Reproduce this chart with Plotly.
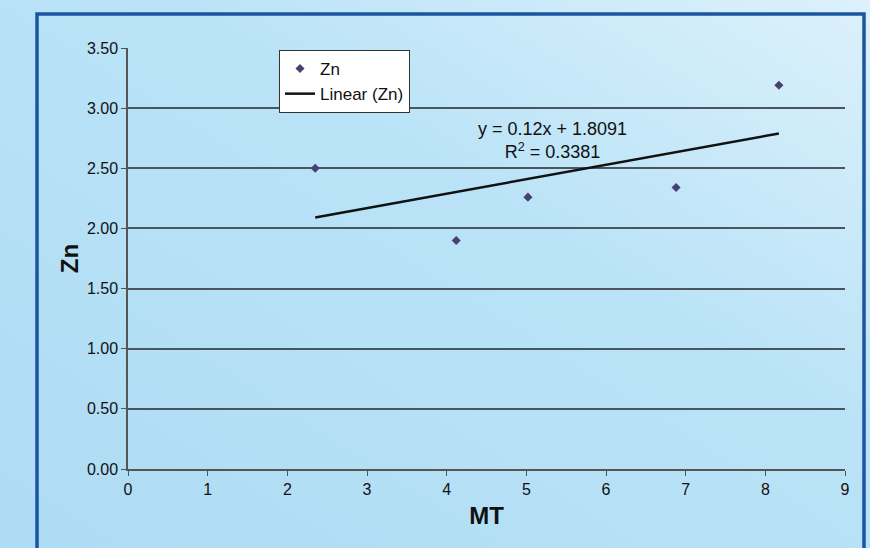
import plotly.graph_objects as go

# Data
mt_values = [2.35, 4.12, 5.02, 6.88, 8.17]
zn_values = [2.50, 1.90, 2.26, 2.34, 3.19]
trend_slope = 0.12
trend_intercept = 1.8091
trend_r2 = 0.3381
y_ticks = [0, 0.5, 1.0, 1.5, 2.0, 2.5, 3.0, 3.5]
x_ticks = list(range(0, 10))

x_lo, x_hi = min(mt_values), max(mt_values)
trend_x = [x_lo, x_hi]
trend_y = [trend_slope * v + trend_intercept for v in trend_x]

FONT = "Liberation Sans, Arial, sans-serif"
PW, PH = 717, 421  # plot area size in px
L, T = 128, 48

bg_svg = (
    "data:image/svg+xml;utf8,"
    "<svg xmlns='http://www.w3.org/2000/svg' width='870' height='548'>"
    "<defs><linearGradient id='g' x1='0' y1='1' x2='1' y2='0'>"
    "<stop offset='0' stop-color='%23aedcf4'/>"
    "<stop offset='0.6' stop-color='%23bae3f7'/>"
    "<stop offset='1' stop-color='%23dcf1fb'/>"
    "</linearGradient></defs>"
    "<rect width='870' height='548' fill='url(%23g)'/></svg>"
)

fig = go.Figure()
fig.add_trace(go.Scatter(
    x=mt_values, y=zn_values, mode="markers", name="Zn",
    marker=dict(symbol="diamond", size=7, color="#4a3f73"),
))
fig.add_trace(go.Scatter(
    x=trend_x, y=trend_y, mode="lines", name="Linear (Zn)",
    line=dict(color="#111111", width=2.5),
))

fig.update_layout(
    width=870, height=548,
    margin=dict(l=L, r=25, t=T, b=79, autoexpand=False),
    paper_bgcolor="#b8e2f6",
    plot_bgcolor="rgba(0,0,0,0)",
    font=dict(family=FONT, size=16, color="#111111"),
    showlegend=True,
    legend=dict(
        x=(279 - L) / PW, y=(469 - 50) / PH,
        xanchor="left", yanchor="top",
        bgcolor="white", bordercolor="#333333", borderwidth=1,
        font=dict(family=FONT, size=17, color="#111111"),
        tracegroupgap=0, itemwidth=30,
    ),
    images=[dict(
        source=bg_svg, xref="paper", yref="paper",
        x=-L / PW, y=(469) / PH, sizex=870 / PW, sizey=548 / PH,
        xanchor="left", yanchor="top", sizing="stretch", layer="below",
    )],
    xaxis=dict(
        range=[0, 9], tickvals=x_ticks, ticktext=[str(v) for v in x_ticks],
        showgrid=False, zeroline=False, showline=True, linecolor="#555555", linewidth=1.5,
        ticks="outside", ticklen=5, tickcolor="#555555",
        tickfont=dict(family=FONT, size=16),
        title=dict(text="<b>MT</b>", font=dict(family=FONT, size=24), standoff=10),
    ),
    yaxis=dict(
        range=[0, 3.5], tickvals=y_ticks, ticktext=[f"{v:.2f}" for v in y_ticks],
        showgrid=True, gridcolor="#4a5560", gridwidth=1.6, zeroline=False,
        showline=True, linecolor="#555555", linewidth=1.5,
        ticks="outside", ticklen=5, tickcolor="#555555",
        tickfont=dict(family=FONT, size=16),
        title=dict(text="<b>Zn</b>", font=dict(family=FONT, size=24), standoff=2),
    ),
    shapes=[dict(
        type="rect", xref="paper", yref="paper",
        x0=(37 - L) / PW, x1=(864 - L) / PW, y0=-(548 - 469 + 10) / PH, y1=(469 - 14) / PH,
        line=dict(color="#1b55a0", width=3.5), fillcolor="rgba(0,0,0,0)", layer="below",
    )],
    annotations=[dict(
        x=(552 - L) / PW, y=(469 - 117) / PH, xref="paper", yref="paper",
        xanchor="center", yanchor="top",
        text=f"y = {trend_slope}x + {trend_intercept}<br>R<sup>2</sup> = {trend_r2}",
        showarrow=False, align="center",
        font=dict(family=FONT, size=18, color="#111111"),
    )],
)

fig.write_html("out.html")
